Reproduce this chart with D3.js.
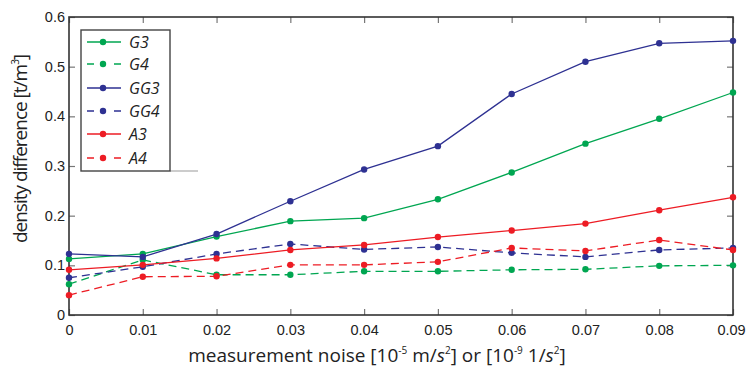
<!DOCTYPE html>
<html>
<head>
<meta charset="utf-8">
<script src="https://cdn.jsdelivr.net/npm/d3@7"></script>
<style>
  body { margin: 0; background: #fff; }
  svg { display: block; font-family: "Open Sans", sans-serif; }
</style>
</head>
<body>
<div id="chart"></div>
<script>
// data
var noise = [0, 0.01, 0.02, 0.03, 0.04, 0.05, 0.06, 0.07, 0.08, 0.09];
var G3  = [0.113, 0.123, 0.158, 0.189, 0.195, 0.233, 0.287, 0.345, 0.395, 0.448];
var G4  = [0.062, 0.111, 0.081, 0.081, 0.088, 0.088, 0.091, 0.092, 0.099, 0.100];
var GG3 = [0.123, 0.117, 0.163, 0.229, 0.293, 0.340, 0.445, 0.510, 0.547, 0.552];
var GG4 = [0.075, 0.097, 0.123, 0.143, 0.132, 0.137, 0.125, 0.117, 0.131, 0.135];
var A3  = [0.091, 0.101, 0.114, 0.131, 0.141, 0.157, 0.170, 0.184, 0.211, 0.237];
var A4  = [0.040, 0.077, 0.078, 0.101, 0.101, 0.107, 0.135, 0.129, 0.151, 0.131];
var seriesNames = ["G3", "G4", "GG3", "GG4", "A3", "A4"];
var xTickLabels = ["0", "0.01", "0.02", "0.03", "0.04", "0.05", "0.06", "0.07", "0.08", "0.09"];
var yTicks = [0, 0.1, 0.2, 0.3, 0.4, 0.5, 0.6];
var yTickLabels = ["0", "0.1", "0.2", "0.3", "0.4", "0.5", "0.6"];

var width = 746;
var height = 369;
var margin = {top: 17, right: 13, bottom: 54, left: 69};
var w = width - margin.left - margin.right;
var h = height - margin.top - margin.bottom;

var green = "#00a651", blue = "#2e3192", red = "#ed1c24";
var series = [
  {name: seriesNames[0], values: G3,  color: green, dashed: false},
  {name: seriesNames[1], values: G4,  color: green, dashed: true},
  {name: seriesNames[2], values: GG3, color: blue,  dashed: false},
  {name: seriesNames[3], values: GG4, color: blue,  dashed: true},
  {name: seriesNames[4], values: A3,  color: red,   dashed: false},
  {name: seriesNames[5], values: A4,  color: red,   dashed: true}
];

var svg = d3.select("#chart").append("svg")
  .attr("width", width)
  .attr("height", height);

var g = svg.append("g")
  .attr("transform", `translate(${margin.left},${margin.top})`);

var x = d3.scaleLinear().domain([0, 0.09]).range([0, w]);
var y = d3.scaleLinear().domain([0, 0.6]).range([h, 0]);

// axes, ticks pointing inward like matlab
var xAxis = d3.axisBottom(x).tickValues(noise)
  .tickFormat((d, i) => xTickLabels[i])
  .tickSizeInner(-6).tickSizeOuter(0).tickPadding(10);
var yAxis = d3.axisLeft(y).tickValues(yTicks)
  .tickFormat((d, i) => yTickLabels[i])
  .tickSizeInner(-6).tickSizeOuter(0).tickPadding(4);

function styleAxis(sel) {
  sel.select(".domain").remove();
  sel.selectAll(".tick line").attr("stroke", "#777").attr("stroke-width", 1.2);
  sel.selectAll(".tick text").attr("fill", "#222").style("font-size", "14.5px");
}

var gx = g.append("g").attr("transform", `translate(0,${h})`).call(xAxis).call(styleAxis);
// last label sits right on the page edge
gx.selectAll(".tick text").filter((d, i) => i === noise.length - 1).attr("dx", -2);
g.append("g").call(yAxis).call(styleAxis);
g.append("g").call(d3.axisTop(x).tickValues(noise).tickFormat("").tickSizeInner(-6).tickSizeOuter(0)).call(styleAxis);
g.append("g").attr("transform", `translate(${w},0)`)
  .call(d3.axisRight(y).tickValues(yTicks).tickFormat("").tickSizeInner(-6).tickSizeOuter(0)).call(styleAxis);

// box
g.append("rect")
  .attr("width", w).attr("height", h)
  .attr("fill", "none")
  .attr("stroke", "#333")
  .attr("stroke-width", 1.6);

var line = d3.line()
  .x((d, i) => x(noise[i]))
  .y(d => y(d));

series.forEach(function (s) {
  g.append("path")
    .datum(s.values)
    .attr("d", line)
    .attr("fill", "none")
    .attr("stroke", s.color)
    .attr("stroke-width", 1.3)
    .attr("stroke-dasharray", s.dashed ? "8,5" : null);
  g.selectAll(null)
    .data(s.values)
    .enter()
    .append("circle")
    .attr("cx", (d, i) => x(noise[i]))
    .attr("cy", d => y(d))
    .attr("r", 3.2)
    .attr("fill", s.color);
});

// legend
var lg = svg.append("g").attr("transform", "translate(81,30)");
lg.append("line")
  .attr("x1", 89).attr("x2", 117).attr("y1", 141).attr("y2", 141)
  .attr("stroke", "#aaa").attr("stroke-width", 1.2);
lg.append("rect")
  .attr("width", 89).attr("height", 141)
  .attr("fill", "#fff")
  .attr("stroke", "#444")
  .attr("stroke-width", 1.4);

var rowY = [12, 34, 58, 81, 104, 128];
series.forEach(function (s, i) {
  var row = lg.append("g").attr("transform", `translate(0,${rowY[i]})`);
  row.append("line")
    .attr("x1", 6).attr("x2", 40)
    .attr("stroke", s.color)
    .attr("stroke-width", 1.3)
    .attr("stroke-dasharray", s.dashed ? "7,20" : null);
  row.append("circle").attr("cx", 22).attr("r", 3.2).attr("fill", s.color);
  row.append("text")
    .attr("x", 48).attr("dy", "0.36em")
    .style("font-size", "16px")
    .style("font-style", "italic")
    .attr("fill", "#222")
    .text(s.name);
});

// axis labels
var xl = svg.append("text")
  .attr("x", 377)
  .attr("y", 362)
  .attr("text-anchor", "middle")
  .style("font-size", "19px")
  .attr("fill", "#222");
xl.append("tspan").text("measurement noise [10");
xl.append("tspan").attr("dy", -8).style("font-size", "10px").text("-5");
xl.append("tspan").attr("dy", 8).text(" m/");
xl.append("tspan").style("font-style", "italic").text("s");
xl.append("tspan").attr("dy", -8).style("font-size", "10px").text("2");
xl.append("tspan").attr("dy", 8).text("] or [10");
xl.append("tspan").attr("dy", -8).style("font-size", "10px").text("-9");
xl.append("tspan").attr("dy", 8).text(" 1/");
xl.append("tspan").style("font-style", "italic").text("s");
xl.append("tspan").attr("dy", -8).style("font-size", "10px").text("2");
xl.append("tspan").attr("dy", 8).text("]");

var yl = svg.append("text")
  .attr("transform", "translate(27,149) rotate(-90)")
  .attr("text-anchor", "middle")
  .style("font-size", "19px")
  .style("letter-spacing", "-1px")
  .attr("fill", "#222");
yl.append("tspan").text("density difference [t/m");
yl.append("tspan").attr("dy", -8).style("font-size", "10px").text("3");
yl.append("tspan").attr("dy", 8).text("]");
</script>
</body>
</html>
